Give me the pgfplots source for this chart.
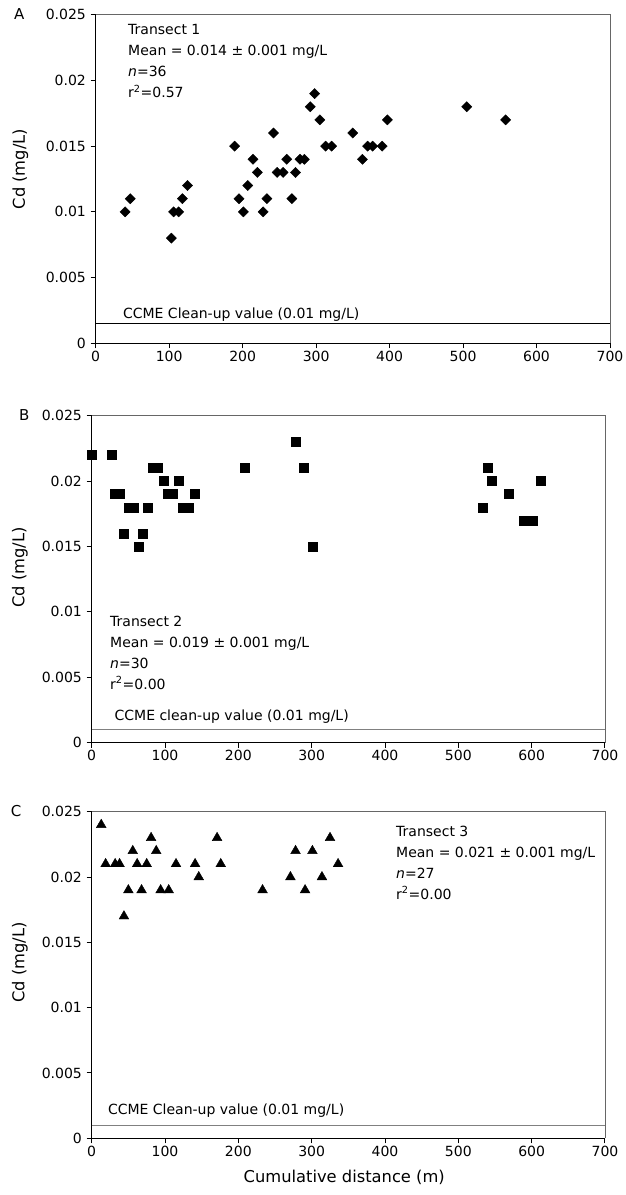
\documentclass[border=0pt]{standalone}
\usepackage{fontspec}
\setmainfont{DejaVu Sans}
\usepackage{pgfplots}
\usepackage{pgfplotstable}
\pgfplotsset{compat=1.18}

\pgfplotstableread{
x y
40 0.010
47 0.011
103 0.008
106 0.010
113 0.010
118 0.011
125 0.012
189 0.015
195 0.011
201 0.010
207 0.012
214 0.014
220 0.013
228 0.010
233 0.011
242 0.016
247 0.013
255 0.013
260 0.014
267 0.011
272 0.013
278 0.014
284 0.014
292 0.018
298 0.019
305 0.017
313 0.015
321 0.015
350 0.016
363 0.014
370 0.015
377 0.015
390 0.015
397 0.017
505 0.018
558 0.017
}\tA

\pgfplotstableread{
x y
0 0.022
27 0.022
32 0.019
38 0.019
44 0.016
50 0.018
57 0.018
64 0.015
70 0.016
77 0.018
83 0.021
90 0.021
98 0.020
104 0.019
111 0.019
119 0.020
124 0.018
132 0.018
140 0.019
209 0.021
278 0.023
289 0.021
301 0.015
533 0.018
540 0.021
546 0.020
568 0.019
589 0.017
601 0.017
612 0.020
}\tB

\pgfplotstableread{
x y
13 0.024
19 0.021
32 0.021
38 0.021
44 0.017
50 0.019
56 0.022
62 0.021
68 0.019
75 0.021
81 0.023
88 0.022
94 0.019
105 0.019
115 0.021
141 0.021
146 0.020
171 0.023
176 0.021
233 0.019
271 0.020
278 0.022
291 0.019
301 0.022
314 0.020
325 0.023
336 0.021
}\tC

\newcommand\labfont{\fontsize{16.3}{19}\selectfont}

\tikzset{txt/.style={anchor=base west, inner sep=0pt}}

\pgfplotsset{
 cdstyle/.style={
  scale only axis,
  axis lines=left,
  axis line style={-, line width=1.2pt, black},
  xmin=0, xmax=700, ymin=0, ymax=0.025,
  xtick={0,100,200,300,400,500,600,700},
  xticklabels={0,100,200,300,400,500,600,700},
  ytick={0,0.005,0.01,0.015,0.02,0.025},
  yticklabels={0,0.005,0.01,0.015,0.02,0.025},
  scaled y ticks=false,
  scaled x ticks=false,
  tick align=outside,
  major tick length=5pt,
  tick style={black, line width=1pt},
  x tick label style={yshift=2pt},
  clip=false,
  ylabel={Cd (mg/L)},
 },
}

\begin{document}
\fontsize{14}{21}\selectfont
\begin{tikzpicture}
\useasboundingbox (0,0) rectangle (626pt,1195pt);

% ---------- Panel A ----------
\begin{axis}[cdstyle,
  at={(95.7pt,851.7pt)}, anchor=south west,
  width=514.3pt, height=328.6pt,
  every axis y label/.style={at={(axis description cs:-0.1466,0.53)}, rotate=90, anchor=center, font=\labfont},
]
\draw[black!60, line width=0.8pt] (rel axis cs:0,1) -- (rel axis cs:1,1) -- (rel axis cs:1,0);
\addplot[black, line width=0.7pt, forget plot] coordinates {(0,0.0015) (700,0.0015)};
\addplot[only marks, mark=square*, mark size=3.6pt, mark options={rotate=45, fill=black, draw=black}] table[x=x,y=y] {\tA};
\node[txt] at (axis cs:37,0.0019) {CCME Clean-up value (0.01 mg/L)};
\node[txt] at (axis cs:44,0.0235) {Transect 1};
\node[txt, yshift=-21pt] at (axis cs:44,0.0235) {Mean = 0.014 ± 0.001 mg/L};
\node[txt, yshift=-42pt] at (axis cs:44,0.0235) {\textit{n}=36};
\node[txt, yshift=-63pt] at (axis cs:44,0.0235) {r\textsuperscript{2}=0.57};
\node[anchor=base, font=\fontsize{15}{18}\selectfont] at (axis cs:-104,0.0246) {A};
\end{axis}

% ---------- Panel B ----------
\begin{axis}[cdstyle,
  at={(91.7pt,452.3pt)}, anchor=south west,
  width=513.3pt, height=327pt,
  every axis y label/.style={at={(axis description cs:-0.1397,0.536)}, rotate=90, anchor=center, font=\labfont},
]
\draw[black!60, line width=0.8pt] (rel axis cs:0,1) -- (rel axis cs:1,1) -- (rel axis cs:1,0);
\addplot[black!50, line width=0.9pt, forget plot] coordinates {(0,0.00104) (700,0.00104)};
\addplot[only marks, mark=square*, mark size=4.5pt, mark options={fill=black, draw=black}] table[x=x,y=y] {\tB};
\node[txt] at (axis cs:31,0.00166) {CCME clean-up value (0.01 mg/L)};
\node[txt] at (axis cs:25,0.00885) {Transect 2};
\node[txt, yshift=-20.7pt] at (axis cs:25,0.00885) {Mean = 0.019 ± 0.001 mg/L};
\node[txt, yshift=-41.4pt] at (axis cs:25,0.00885) {\textit{n}=30};
\node[txt, yshift=-62.1pt] at (axis cs:25,0.00885) {r\textsuperscript{2}=0.00};
\node[anchor=base, font=\fontsize{15}{18}\selectfont] at (axis cs:-92,0.0246) {B};
\end{axis}

% ---------- Panel C ----------
\begin{axis}[cdstyle,
  at={(91.7pt,56.7pt)}, anchor=south west,
  width=513.3pt, height=326.6pt,
  every axis y label/.style={at={(axis description cs:-0.1397,0.538)}, rotate=90, anchor=center, font=\labfont},
  every axis x label/.style={at={(axis description cs:0.492,-0.1194)}, anchor=center, font=\labfont},
  xlabel={Cumulative distance (m)},
]
\draw[black!60, line width=0.8pt] (rel axis cs:0,1) -- (rel axis cs:1,1) -- (rel axis cs:1,0);
\addplot[black!50, line width=0.9pt, forget plot] coordinates {(0,0.001) (700,0.001)};
\addplot[only marks, mark=triangle*, mark size=5.6pt, mark options={fill=black, draw=black}] table[x=x,y=y] {\tC};
\node[txt] at (axis cs:22,0.00186) {CCME Clean-up value (0.01 mg/L)};
\node[txt] at (axis cs:415,0.02313) {Transect 3};
\node[txt, yshift=-21pt] at (axis cs:415,0.02313) {Mean = 0.021 ± 0.001 mg/L};
\node[txt, yshift=-42pt] at (axis cs:415,0.02313) {\textit{n}=27};
\node[txt, yshift=-63pt] at (axis cs:415,0.02313) {r\textsuperscript{2}=0.00};
\node[anchor=base, font=\fontsize{15}{18}\selectfont] at (axis cs:-103,0.0246) {C};
\end{axis}
\end{tikzpicture}
\end{document}
